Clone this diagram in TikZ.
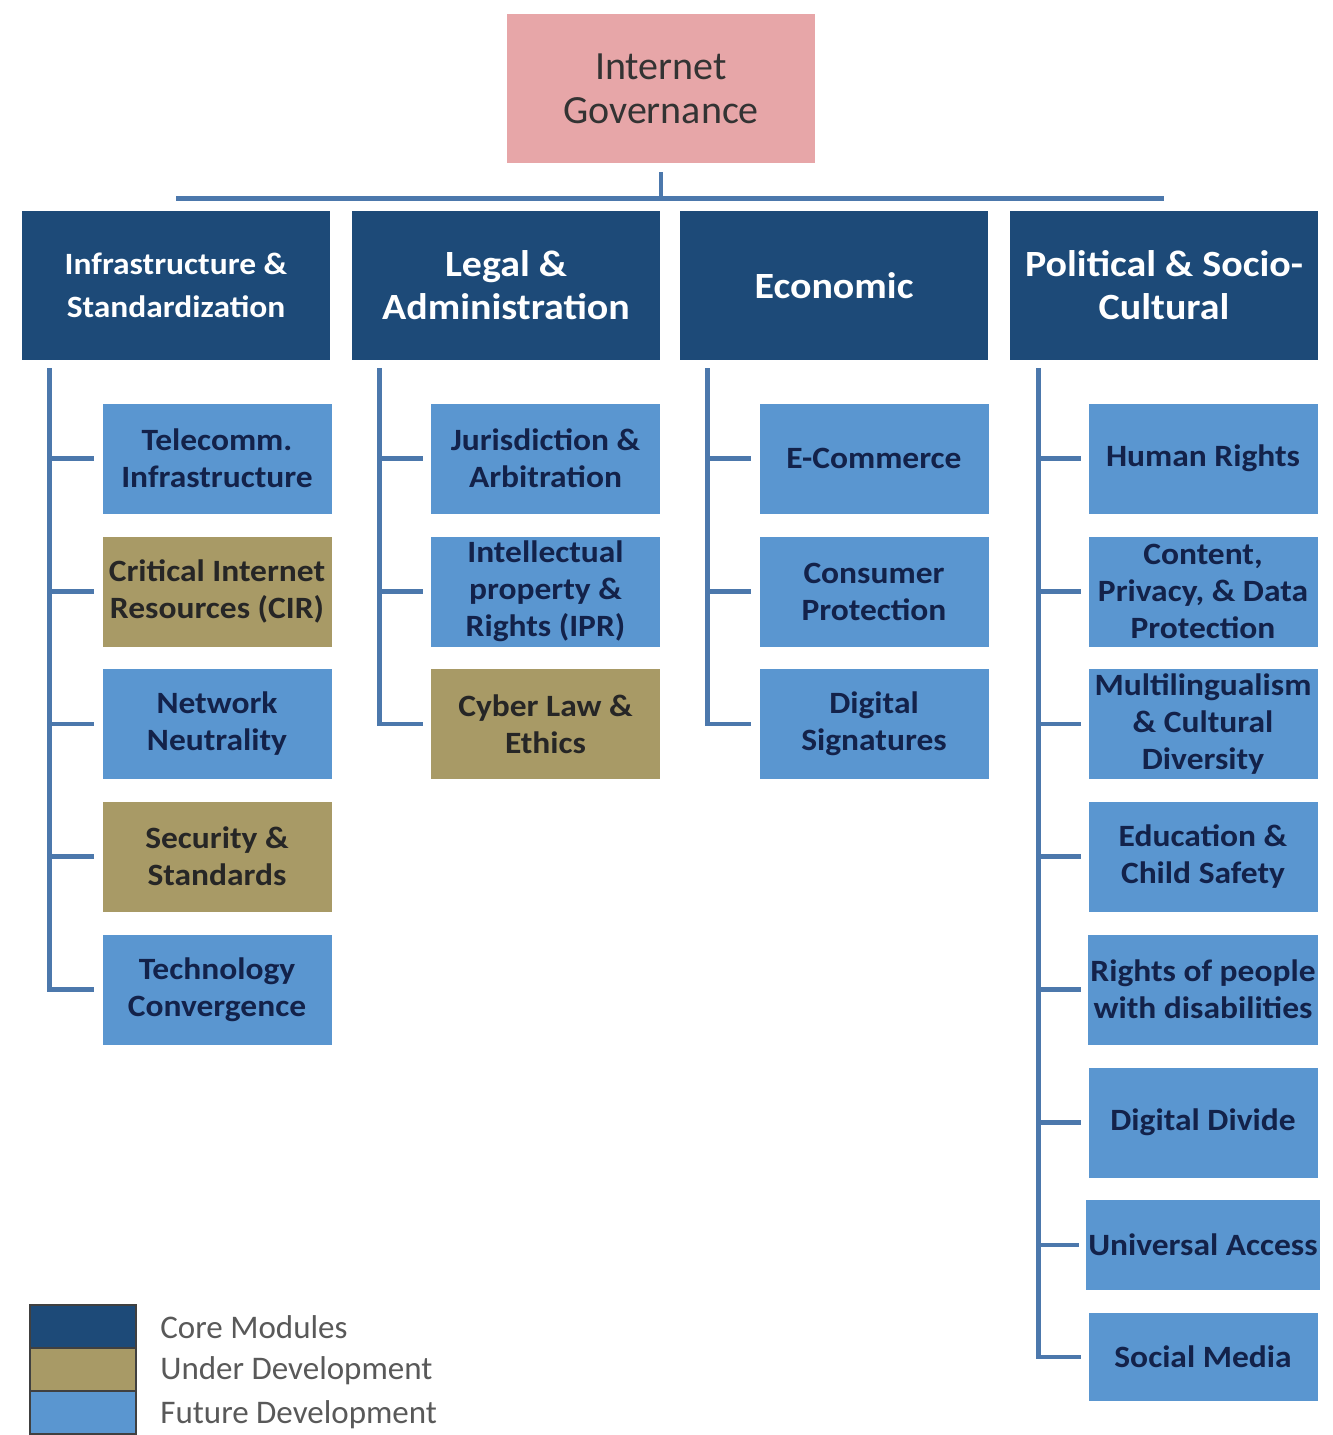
\documentclass[tikz,border=0pt]{standalone}
\usepackage{fontspec}
\setmainfont{Carlito}
\newfontfamily\widefont{Carlito}[FakeStretch=1.08]
\definecolor{rootpink}{HTML}{E7A6A8}
\definecolor{corenavy}{HTML}{1D4A78}
\definecolor{devtan}{HTML}{A89A66}
\definecolor{futblue}{HTML}{5A96D0}
\definecolor{linkblue}{HTML}{4C78AC}
\definecolor{subtext}{HTML}{13224A}

\begin{document}
\begin{tikzpicture}[x=0.5pt,y=-0.5pt]
  \tikzstyle{root node}=[rectangle,fill=rootpink,minimum width=154pt,minimum height=74.5pt,align=center,text=black!80,font=\fontsize{20}{22}\selectfont]
  \tikzstyle{cat node}=[rectangle,fill=corenavy,minimum width=154pt,minimum height=74.5pt,inner sep=1pt,align=center,text=white,font=\widefont\bfseries\fontsize{18.5}{21.5}\selectfont]
  \tikzstyle{sub node}=[rectangle,fill=futblue,minimum width=114.5pt,minimum height=55pt,inner sep=1pt,align=center,text=subtext,font=\widefont\bfseries\fontsize{15.5}{18.5}\selectfont]
  \tikzstyle{dev node}=[sub node,fill=devtan,text=black!85]
  \tikzstyle{link}=[draw=linkblue,line width=2.4pt]
  \tikzstyle{key box}=[rectangle,draw=black!75,line width=0.8pt,minimum width=53pt,minimum height=21.5pt,inner sep=0]
  \tikzstyle{key text}=[anchor=west,inner sep=0,text=black!65,font=\fontsize{16.5}{19}\selectfont]
  \useasboundingbox[fill=white] (0,0) rectangle (1333,1435);
  % root and core modules
  \node(0)[root node] at (661,88.5) {Internet\\Governance};
  \node(1)[cat node] at (176,285.5) {\fontsize{15.5}{19}\selectfont Infrastructure \&\\\fontsize{15.5}{19}\selectfont Standardization};
  \node(2)[cat node] at (506,285.5) {Legal \&\\Administration};
  \node(3)[cat node] at (834,285.5) {Economic};
  \node(4)[cat node] at (1164,285.5) {Political \& Socio-\\Cultural};
  \coordinate(b1) at ([yshift=6pt]1.north);
  \coordinate(b4) at ([yshift=6pt]4.north);
  \draw[link] (b1) -- (b4);
  \draw[link] ([yshift=-4.5pt]0.south) -- (0.south |- b1);
  % infrastructure & standardization
  \node(1a)[sub node] at (217,458.5) {Telecomm.\\Infrastructure};
  \node(1b)[dev node] at (217,591.5) {Critical Internet\\Resources (CIR)};
  \node(1c)[sub node] at (217,724) {Network\\Neutrality};
  \node(1d)[dev node] at (217,856.5) {Security \&\\Standards};
  \node(1e)[sub node] at (217,989.5) {Technology\\Convergence};
  % legal & administration
  \node(2a)[sub node] at (545.5,458.5) {Jurisdiction \&\\Arbitration};
  \node(2b)[sub node] at (545.5,591.5) {Intellectual\\property \&\\Rights (IPR)};
  \node(2c)[dev node] at (545.5,724) {Cyber Law \&\\Ethics};
  % economic
  \node(3a)[sub node] at (874,458.5) {E-Commerce};
  \node(3b)[sub node] at (874,591.5) {Consumer\\Protection};
  \node(3c)[sub node] at (874,724) {Digital\\Signatures};
  % political & socio-cultural
  \node(4a)[sub node] at (1203,458.5) {Human Rights};
  \node(4b)[sub node] at (1203,591.5) {Content,\\Privacy, \& Data\\Protection};
  \node(4c)[sub node] at (1203,724) {Multilingualism\\\& Cultural\\Diversity};
  \node(4d)[sub node] at (1203,856.5) {Education \&\\Child Safety};
  \node(4e)[sub node] at (1203,989.5) {Rights of people\\with disabilities};
  \node(4f)[sub node] at (1203,1122.5) {Digital Divide};
  \node(4g)[sub node,minimum height=45pt] at (1203,1245) {Universal Access};
  \node(4h)[sub node,minimum height=44pt] at (1203,1357) {Social Media};
  % branch lines
  \coordinate(t1) at ([shift={(14pt,-4pt)}]1.south west);
  \coordinate(t2) at ([shift={(14pt,-4pt)}]2.south west);
  \coordinate(t3) at ([shift={(14pt,-4pt)}]3.south west);
  \coordinate(t4) at ([shift={(14.5pt,-4pt)}]4.south west);
  \draw[link] (t1) |- ([xshift=-4pt]1e.west)
    (t1 |- 1a.west) -- ([xshift=-4pt]1a.west)
    (t1 |- 1b.west) -- ([xshift=-4pt]1b.west)
    (t1 |- 1c.west) -- ([xshift=-4pt]1c.west)
    (t1 |- 1d.west) -- ([xshift=-4pt]1d.west);
  \draw[link] (t2) |- ([xshift=-4pt]2c.west)
    (t2 |- 2a.west) -- ([xshift=-4pt]2a.west)
    (t2 |- 2b.west) -- ([xshift=-4pt]2b.west);
  \draw[link] (t3) |- ([xshift=-4pt]3c.west)
    (t3 |- 3a.west) -- ([xshift=-4pt]3a.west)
    (t3 |- 3b.west) -- ([xshift=-4pt]3b.west);
  \draw[link] (t4) |- ([xshift=-3.5pt]4h.west)
    (t4 |- 4a.west) -- ([xshift=-3.5pt]4a.west)
    (t4 |- 4b.west) -- ([xshift=-3.5pt]4b.west)
    (t4 |- 4c.west) -- ([xshift=-3.5pt]4c.west)
    (t4 |- 4d.west) -- ([xshift=-3.5pt]4d.west)
    (t4 |- 4e.west) -- ([xshift=-3.5pt]4e.west)
    (t4 |- 4f.west) -- ([xshift=-3.5pt]4f.west)
    (t4 |- 4g.west) -- ([xshift=-3.5pt]4g.west);
  % legend
  \node(k1)[key box,fill=corenavy] at (83,1326.5) {};
  \node(k2)[key box,fill=devtan] at (83,1369.5) {};
  \node(k3)[key box,fill=futblue] at (83,1412.5) {};
  \node(l1)[key text] at (160,1327) {Core Modules};
  \node(l2)[key text] at (160,1371) {Under Development};
  \node(l3)[key text] at (160,1415) {Future Development};
\end{tikzpicture}
\end{document}
